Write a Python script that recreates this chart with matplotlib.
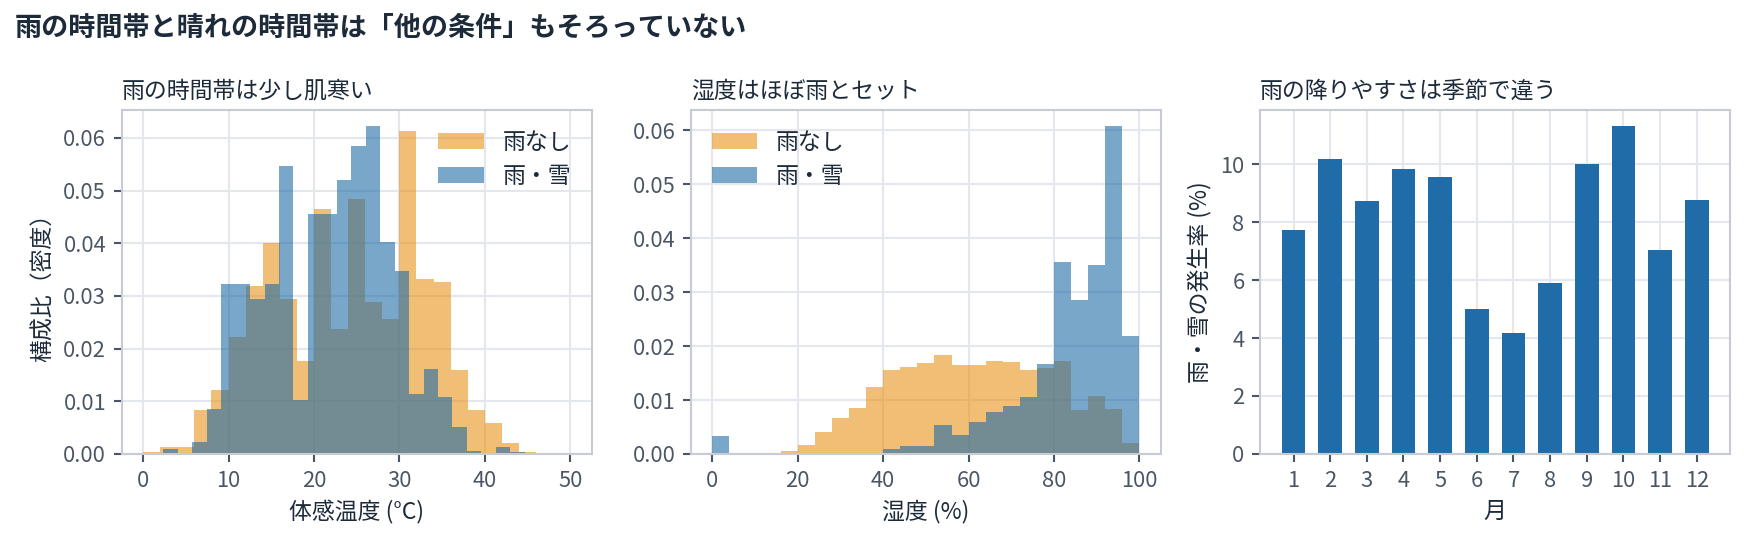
import numpy as np
import matplotlib
matplotlib.use("Agg")
import matplotlib.pyplot as plt

plt.rcParams['font.family'] = ['Noto Sans CJK JP', 'DejaVu Sans']
plt.rcParams['axes.unicode_minus'] = False

TEXT = '#1c2a3a'
TICK = '#4a5565'
SPINE = '#c6cbd6'
GRID = '#e4e7ee'
ORANGE = '#e8931a'
BLUE = '#1f6ca8'

# --- panel 1: apparent temperature histograms (density) ---
feel_edges_dry = np.linspace(0, 50, 26)
feel_dens_dry = [0.0003, 0.0014, 0.0014, 0.0084, 0.0122, 0.0223, 0.0318, 0.0400,
                 0.0295, 0.0176, 0.0466, 0.0237, 0.0484, 0.0289, 0.0257, 0.0614,
                 0.0332, 0.0327, 0.0160, 0.0083, 0.0058, 0.0020, 0.0004, 0.0001, 0.0]
feel_edges_wet = np.linspace(2.38, 44.68, 26)
feel_dens_wet = [0.0010, 0.0, 0.0023, 0.0086, 0.0323, 0.0323, 0.0294, 0.0323,
                 0.0546, 0.0102, 0.0455, 0.0455, 0.0521, 0.0584, 0.0622, 0.0402,
                 0.0347, 0.0113, 0.0162, 0.0108, 0.0052, 0.0006, 0.0, 0.0014, 0.0003]

# --- panel 2: humidity histograms (density) ---
hum_edges = np.linspace(0, 100, 26)
hum_dens_dry = [0.0, 0.0, 0.0, 0.0, 0.0006, 0.0017, 0.0040, 0.0066, 0.0086, 0.0125,
                0.0156, 0.0162, 0.0169, 0.0184, 0.0164, 0.0164, 0.0173, 0.0171,
                0.0156, 0.0160, 0.0173, 0.0082, 0.0108, 0.0084, 0.0021]
hum_dens_wet = [0.0034, 0.0, 0.0, 0.0, 0.0, 0.0, 0.0, 0.0, 0.0002, 0.0002,
                0.0010, 0.0014, 0.0015, 0.0053, 0.0036, 0.0060, 0.0077, 0.0088,
                0.0105, 0.0166, 0.0355, 0.0286, 0.0351, 0.0607, 0.0218]

# --- panel 3: monthly rain rate ---
months = list(range(1, 13))
rain_rate = [7.74, 10.18, 8.74, 9.84, 9.56, 4.99, 4.16, 5.89, 10.0, 11.3, 7.03, 8.76]

labels = ['雨なし', '雨・雪']

fig, axes = plt.subplots(1, 3, figsize=(1744 / 150, 537 / 150), dpi=150)
fig.subplots_adjust(left=0.0698, right=0.992, bottom=0.1546, top=0.7952, wspace=0.2117)


def style(ax):
    ax.set_axisbelow(True)
    ax.grid(True, color=GRID, linewidth=1.0)
    for s in ax.spines.values():
        s.set_color(SPINE)
        s.set_linewidth(1.0)
    ax.tick_params(colors=TICK, labelsize=10.5, length=4, width=1, color=TICK)


def centers(e):
    e = np.asarray(e)
    return (e[:-1] + e[1:]) / 2


ax = axes[0]
ax.hist(centers(feel_edges_dry), bins=feel_edges_dry, weights=feel_dens_dry,
        color=ORANGE, alpha=0.6, label=labels[0])
ax.hist(centers(feel_edges_wet), bins=feel_edges_wet, weights=feel_dens_wet,
        color=BLUE, alpha=0.6, label=labels[1])
ax.set_xlim(-2.5, 52.5)
ax.set_xlabel('体感温度 (°C)', fontsize=11, color=TEXT)
ax.set_ylabel('構成比（密度）', fontsize=11, color=TEXT)
ax.set_title('雨の時間帯は少し肌寒い', loc='left', fontsize=11, color=TEXT)
ax.legend(loc='upper right', frameon=False, fontsize=11, labelcolor=TEXT)
style(ax)

ax = axes[1]
ax.hist(centers(hum_edges), bins=hum_edges, weights=hum_dens_dry,
        color=ORANGE, alpha=0.6, label=labels[0])
ax.hist(centers(hum_edges), bins=hum_edges, weights=hum_dens_wet,
        color=BLUE, alpha=0.6, label=labels[1])
ax.set_xlabel('湿度 (%)', fontsize=11, color=TEXT)
ax.set_title('湿度はほぼ雨とセット', loc='left', fontsize=11, color=TEXT)
ax.legend(loc='upper left', frameon=False, fontsize=11, labelcolor=TEXT)
style(ax)

ax = axes[2]
ax.bar(months, rain_rate, width=0.65, color=BLUE)
ax.set_xticks(months)
ax.set_xlabel('月', fontsize=11, color=TEXT)
ax.set_ylabel('雨・雪の発生率 (%)', fontsize=11, color=TEXT)
ax.set_title('雨の降りやすさは季節で違う', loc='left', fontsize=11, color=TEXT)
style(ax)

fig.text(0.0086, 0.975, '雨の時間帯と晴れの時間帯は「他の条件」もそろっていない',
         fontsize=13, fontweight='bold', color=TEXT, ha='left', va='top')

fig.savefig('out.png', dpi=150)
